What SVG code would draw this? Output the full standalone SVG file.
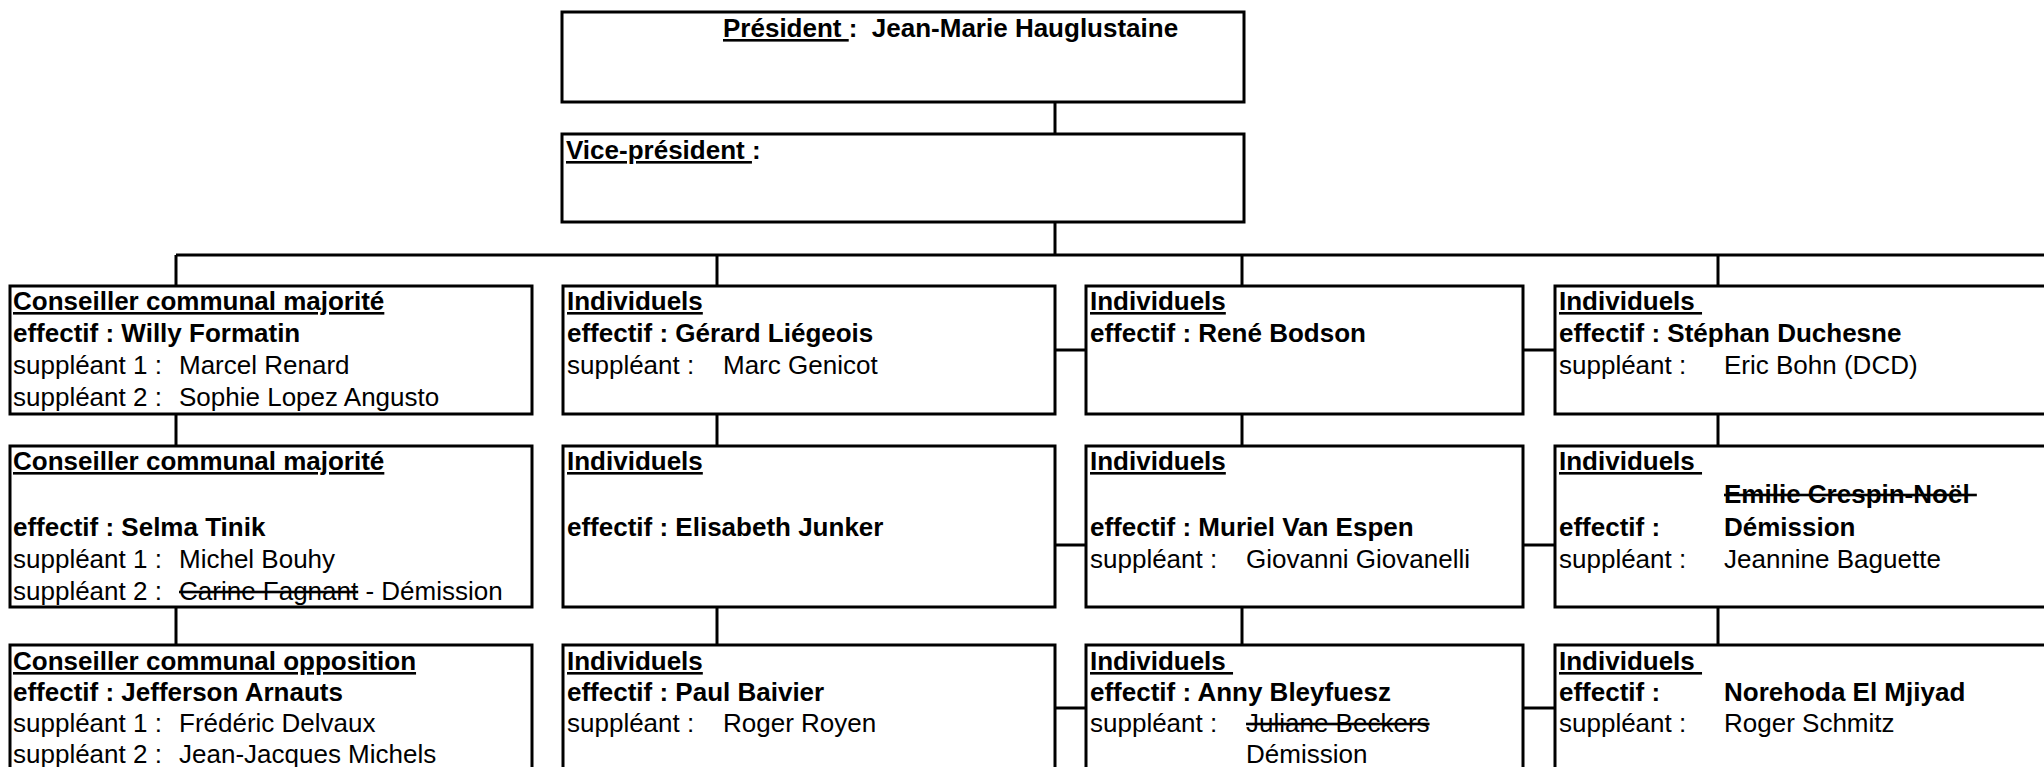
<svg xmlns="http://www.w3.org/2000/svg" width="2044" height="767" viewBox="0 0 2044 767">
<style>
.box{fill:#fff;stroke:#000;stroke-width:3}
.c{stroke:#000;stroke-width:3;fill:none}
text{font-family:"Liberation Sans",Arial,sans-serif;font-size:26px;fill:#000;white-space:pre}
.b{font-weight:bold}
.u{text-decoration:underline;text-decoration-thickness:2.5px}
.s{text-decoration:line-through}
</style>
<rect width="2044" height="767" fill="#fff"/>
<g id="connectors" class="c">
<line x1="1055" y1="102" x2="1055" y2="134"/>
<line x1="1055" y1="222" x2="1055" y2="255"/>
<line x1="176" y1="255" x2="2044" y2="255"/>
<line x1="176" y1="255" x2="176" y2="286"/>
<line x1="717" y1="255" x2="717" y2="286"/>
<line x1="1242" y1="255" x2="1242" y2="286"/>
<line x1="1718" y1="255" x2="1718" y2="286"/>
<line x1="176" y1="414" x2="176" y2="446"/>
<line x1="717" y1="414" x2="717" y2="446"/>
<line x1="1242" y1="414" x2="1242" y2="446"/>
<line x1="1718" y1="414" x2="1718" y2="446"/>
<line x1="176" y1="607" x2="176" y2="645"/>
<line x1="717" y1="607" x2="717" y2="645"/>
<line x1="1242" y1="607" x2="1242" y2="645"/>
<line x1="1718" y1="607" x2="1718" y2="645"/>
<line x1="1055" y1="350" x2="1086" y2="350"/>
<line x1="1523" y1="350" x2="1555" y2="350"/>
<line x1="1055" y1="545" x2="1086" y2="545"/>
<line x1="1523" y1="545" x2="1555" y2="545"/>
<line x1="1055" y1="708" x2="1086" y2="708"/>
<line x1="1523" y1="708" x2="1555" y2="708"/>
</g>
<g id="president">
<rect class="box" x="562" y="12" width="682" height="90"/>
<text class="b" x="723" y="37"><tspan class="u">Président </tspan>:  Jean-Marie Hauglustaine</text>
</g>
<g id="vice-president">
<rect class="box" x="562" y="134" width="682" height="88"/>
<text class="b" x="566" y="159"><tspan class="u">Vice-président </tspan>:</text>
</g>
<g id="r1c1">
<rect class="box" x="10" y="286" width="522" height="128"/>
<text class="b u" x="13" y="310">Conseiller communal majorité</text>
<text class="b" x="13" y="342">effectif : Willy Formatin</text>
<text x="13" y="374">suppléant 1 :<tspan x="179">Marcel Renard</tspan></text>
<text x="13" y="406">suppléant 2 :<tspan x="179">Sophie Lopez Angusto</tspan></text>
</g>
<g id="r1c2">
<rect class="box" x="563" y="286" width="492" height="128"/>
<text class="b u" x="567" y="310">Individuels</text>
<text class="b" x="567" y="342">effectif : Gérard Liégeois</text>
<text x="567" y="374">suppléant :<tspan x="723">Marc Genicot</tspan></text>
</g>
<g id="r1c3">
<rect class="box" x="1086" y="286" width="437" height="128"/>
<text class="b u" x="1090" y="310">Individuels</text>
<text class="b" x="1090" y="342">effectif : René Bodson</text>
</g>
<g id="r1c4">
<rect class="box" x="1555" y="286" width="520" height="128"/>
<text class="b u" x="1559" y="310">Individuels </text>
<text class="b" x="1559" y="342">effectif : Stéphan Duchesne</text>
<text x="1559" y="374">suppléant :<tspan x="1724">Eric Bohn (DCD)</tspan></text>
</g>
<g id="r2c1">
<rect class="box" x="10" y="446" width="522" height="161"/>
<text class="b u" x="13" y="470">Conseiller communal majorité</text>
<text class="b" x="13" y="536">effectif : Selma Tinik</text>
<text x="13" y="568">suppléant 1 :<tspan x="179">Michel Bouhy</tspan></text>
<text x="13" y="600">suppléant 2 :<tspan x="179" class="s">Carine Fagnant</tspan> - Démission</text>
</g>
<g id="r2c2">
<rect class="box" x="563" y="446" width="492" height="161"/>
<text class="b u" x="567" y="470">Individuels</text>
<text class="b" x="567" y="536">effectif : Elisabeth Junker</text>
</g>
<g id="r2c3">
<rect class="box" x="1086" y="446" width="437" height="161"/>
<text class="b u" x="1090" y="470">Individuels</text>
<text class="b" x="1090" y="536">effectif : Muriel Van Espen</text>
<text x="1090" y="568">suppléant :<tspan x="1246">Giovanni Giovanelli</tspan></text>
</g>
<g id="r2c4">
<rect class="box" x="1555" y="446" width="520" height="161"/>
<text class="b u" x="1559" y="470">Individuels </text>
<text class="b s" x="1724" y="503">Emilie Crespin-Noël </text>
<text class="b" x="1559" y="536">effectif :<tspan x="1724">Démission</tspan></text>
<text x="1559" y="568">suppléant :<tspan x="1724">Jeannine Baguette</tspan></text>
</g>
<g id="r3c1">
<rect class="box" x="10" y="645" width="522" height="140"/>
<text class="b u" x="13" y="670">Conseiller communal opposition</text>
<text class="b" x="13" y="701">effectif : Jefferson Arnauts</text>
<text x="13" y="732">suppléant 1 :<tspan x="179">Frédéric Delvaux</tspan></text>
<text x="13" y="763">suppléant 2 :<tspan x="179">Jean-Jacques Michels</tspan></text>
</g>
<g id="r3c2">
<rect class="box" x="563" y="645" width="492" height="140"/>
<text class="b u" x="567" y="670">Individuels</text>
<text class="b" x="567" y="701">effectif : Paul Baivier</text>
<text x="567" y="732">suppléant :<tspan x="723">Roger Royen</tspan></text>
</g>
<g id="r3c3">
<rect class="box" x="1086" y="645" width="437" height="140"/>
<text class="b u" x="1090" y="670">Individuels </text>
<text class="b" x="1090" y="701">effectif : Anny Bleyfuesz</text>
<text x="1090" y="732">suppléant :<tspan x="1246" class="s">Juliane Beckers</tspan></text>
<text x="1246" y="763">Démission</text>
</g>
<g id="r3c4">
<rect class="box" x="1555" y="645" width="520" height="140"/>
<text class="b u" x="1559" y="670">Individuels </text>
<text class="b" x="1559" y="701">effectif :<tspan x="1724">Norehoda El Mjiyad</tspan></text>
<text x="1559" y="732">suppléant :<tspan x="1724">Roger Schmitz</tspan></text>
</g>
</svg>
